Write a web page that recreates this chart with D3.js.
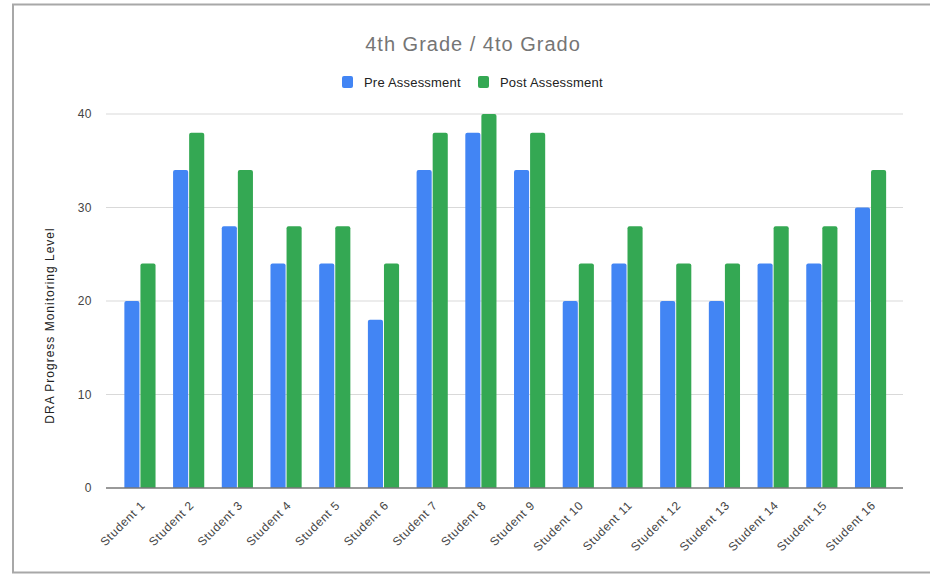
<!DOCTYPE html>
<html>
<head>
<meta charset="utf-8">
<script src="https://cdnjs.cloudflare.com/ajax/libs/d3/7.8.5/d3.min.js"></script>
<style>
  html, body { margin: 0; padding: 0; background: #fff; }
  svg { display: block; font-family: Arial, "Liberation Sans", sans-serif; }
</style>
</head>
<body>
<svg id="chart" width="930" height="574"></svg>
<script>
const categories = ["Student 1","Student 2","Student 3","Student 4","Student 5","Student 6","Student 7","Student 8","Student 9","Student 10","Student 11","Student 12","Student 13","Student 14","Student 15","Student 16"];
const preAssessment  = [20, 34, 28, 24, 24, 18, 34, 38, 34, 20, 24, 20, 20, 24, 24, 30];
const postAssessment = [24, 38, 34, 28, 28, 24, 38, 40, 38, 24, 28, 24, 24, 28, 28, 34];
const seriesNames = ["Pre Assessment", "Post Assessment"];
const seriesColors = ["#4285f4", "#34a853"];
const yTicks = [0, 10, 20, 30, 40];
const titleText = "4th Grade / 4to Grado";
const yAxisTitle = "DRA Progress Monitoring Level";

const svg = d3.select("#chart");
const W = 930, H = 574;

// frame
svg.append("line").attr("x1", 13).attr("x2", 13).attr("y1", 4).attr("y2", 573)
  .attr("stroke", "#a8a8a8").attr("stroke-width", 2);
svg.append("line").attr("x1", 12).attr("x2", W).attr("y1", 4.5).attr("y2", 4.5)
  .attr("stroke", "#a8a8a8").attr("stroke-width", 2);
svg.append("line").attr("x1", 12).attr("x2", W).attr("y1", 572.5).attr("y2", 572.5)
  .attr("stroke", "#a8a8a8").attr("stroke-width", 2);

const plot = { left: 106, right: 903, top: 114, bottom: 488 };

const x0 = d3.scaleBand().domain(categories)
  .range([115.6, 894.9]).paddingInner(0.36).paddingOuter(0.18);
const x1 = d3.scaleBand().domain(seriesNames)
  .range([0, x0.bandwidth()]).paddingInner(0.06);
const y = d3.scaleLinear().domain([0, 40]).range([plot.bottom, plot.top]);

// gridlines
svg.append("g").selectAll("line").data(yTicks.filter(t => t !== 0)).join("line")
  .attr("x1", plot.left).attr("x2", plot.right)
  .attr("y1", d => y(d)).attr("y2", d => y(d))
  .attr("stroke", "#d9d9d9").attr("stroke-width", 1);

// y axis tick labels
const yAxis = d3.axisLeft(y).tickValues(yTicks).tickSize(0).tickPadding(0);
const yg = svg.append("g").attr("transform", `translate(${plot.left - 14},0)`).call(yAxis);
yg.select(".domain").remove();
yg.selectAll("text").attr("font-size", 12).attr("fill", "#444")
  .attr("font-family", "Arial, 'Liberation Sans', sans-serif")
  .attr("letter-spacing", 0.5);

// bars
const data = categories.map((c, i) => ({ cat: c, vals: [preAssessment[i], postAssessment[i]] }));
function topRounded(x, yTop, w, yBase, r) {
  r = Math.min(r, w / 2, yBase - yTop);
  return `M${x},${yBase}V${yTop + r}Q${x},${yTop} ${x + r},${yTop}H${x + w - r}Q${x + w},${yTop} ${x + w},${yTop + r}V${yBase}Z`;
}
const groups = svg.append("g").selectAll("g").data(data).join("g")
  .attr("transform", d => `translate(${x0(d.cat)},0)`);
groups.selectAll("path").data(d => d.vals.map((v, k) => ({ v, k }))).join("path")
  .attr("d", d => topRounded(x1(seriesNames[d.k]), y(d.v), x1.bandwidth(), y(0), 2))
  .attr("fill", d => seriesColors[d.k]);

// baseline
svg.append("line").attr("x1", plot.left).attr("x2", plot.right)
  .attr("y1", y(0)).attr("y2", y(0))
  .attr("stroke", "#777").attr("stroke-width", 1.5);

// x axis labels
const xAxis = d3.axisBottom(x0).tickSize(0).tickPadding(0);
const xg = svg.append("g").attr("transform", `translate(0,${y(0)})`).call(xAxis);
xg.select(".domain").remove();
xg.selectAll("text")
  .attr("font-size", 12).attr("fill", "#444")
  .attr("font-family", "Arial, 'Liberation Sans', sans-serif")
  .attr("letter-spacing", 0.7)
  .attr("text-anchor", "end")
  .attr("dy", null).attr("y", 0)
  .attr("transform", "translate(6,18) rotate(-45)");

// title
svg.append("text").attr("x", 473).attr("y", 51).attr("text-anchor", "middle")
  .attr("font-size", 20).attr("fill", "#757575").attr("letter-spacing", 1)
  .text(titleText);

// legend
const legendItems = [
  { name: seriesNames[0], color: seriesColors[0], x: 342 },
  { name: seriesNames[1], color: seriesColors[1], x: 478 }
];
const lg = svg.append("g").selectAll("g").data(legendItems).join("g")
  .attr("transform", d => `translate(${d.x},76)`);
lg.append("rect").attr("width", 11).attr("height", 12).attr("rx", 2)
  .attr("fill", d => d.color);
lg.append("text").attr("x", 22).attr("y", 10.5).attr("font-size", 13)
  .attr("fill", "#222").attr("letter-spacing", 0.2).text(d => d.name);

// y axis title
svg.append("text")
  .attr("transform", `translate(54,${(227 + 424) / 2}) rotate(-90)`)
  .attr("text-anchor", "middle").attr("font-size", 12).attr("fill", "#222")
  .attr("letter-spacing", 1)
  .text(yAxisTitle);
</script>
</body>
</html>
